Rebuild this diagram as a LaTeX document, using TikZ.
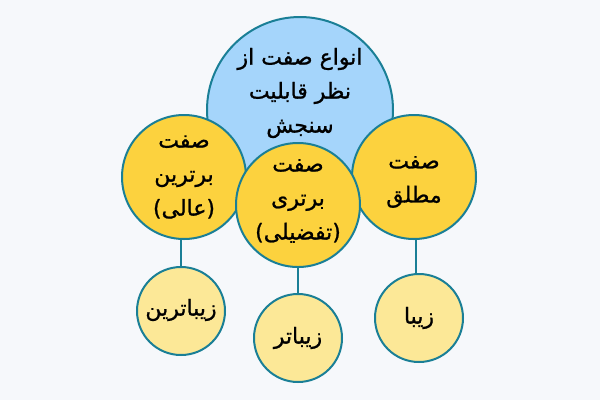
\documentclass[tikz,border=0pt]{standalone}
\usepackage{fontspec}
\TeXXeTstate=1
\newfontfamily\arabicfont[Script=Arabic,FakeBold=1]{DejaVu Sans}
\definecolor{bg}{HTML}{F6F8FB}
\definecolor{edge}{HTML}{1A7F96}
\definecolor{skyfill}{HTML}{A5D5FB}
\definecolor{goldfill}{HTML}{FCD23E}
\definecolor{palefill}{HTML}{FCE897}
\tikzset{
  bubble/.style={circle, draw=edge, line width=2pt, inner sep=0pt},
  rootbubble/.style={bubble, fill=skyfill, minimum size=186pt},
  midbubble/.style={bubble, fill=goldfill, minimum size=124pt},
  leafbubble/.style={bubble, fill=palefill, minimum size=88pt},
  txt/.style={align=center, inner sep=0pt, font=\arabicfont\fontsize{22}{34}\selectfont},
  link/.style={draw=edge, line width=2pt}
}
\begin{document}
\begin{tikzpicture}[x=1pt,y=-1pt]
\fill[bg] (0,0) rectangle (600,400);
\useasboundingbox (0,0) rectangle (600,400);
\node[rootbubble] (root) at (300,110) {};
\node[txt] (roottext) at ([yshift=17pt]root.center) {\beginR انواع صفت از\endR\\\beginR نظر قابلیت\endR\\\beginR سنجش\endR};
\node[midbubble] (sup) at (184,177) {};
\node[txt] (suptext) at ([yshift=0pt]sup.center) {\beginR صفت\endR\\\beginR برترین\endR\\\beginR (عالی)\endR};
\node[midbubble] (abs) at (414,177) {};
\node[txt] (abstext) at ([yshift=-5pt]abs.center) {\beginR صفت\endR\\\beginR مطلق\endR};
\node[midbubble] (cmp) at (298,205) {};
\node[txt] (cmptext) at ([yshift=4pt]cmp.center) {\beginR صفت\endR\\\beginR برتری\endR\\\beginR (تفضیلی)\endR};
\node[leafbubble] (leafa) at (181,311) {};
\node[txt] (leafatext) at ([yshift=1pt]leafa.center) {\beginR زیباترین\endR};
\node[leafbubble] (leafb) at (298,338) {};
\node[txt] (leafbtext) at ([yshift=0pt]leafb.center) {\beginR زیباتر\endR};
\node[leafbubble] (leafc) at (419,318) {};
\node[txt] (leafctext) at ([yshift=0pt]leafc.center) {\beginR زیبا\endR};
\draw[link] (sup.south -| leafa) -- (leafa.north);
\draw[link] (cmp.south) -- (leafb.north);
\draw[link] (abs.south -| 416,0) -- (leafc.north -| 416,0);
\end{tikzpicture}
\end{document}
